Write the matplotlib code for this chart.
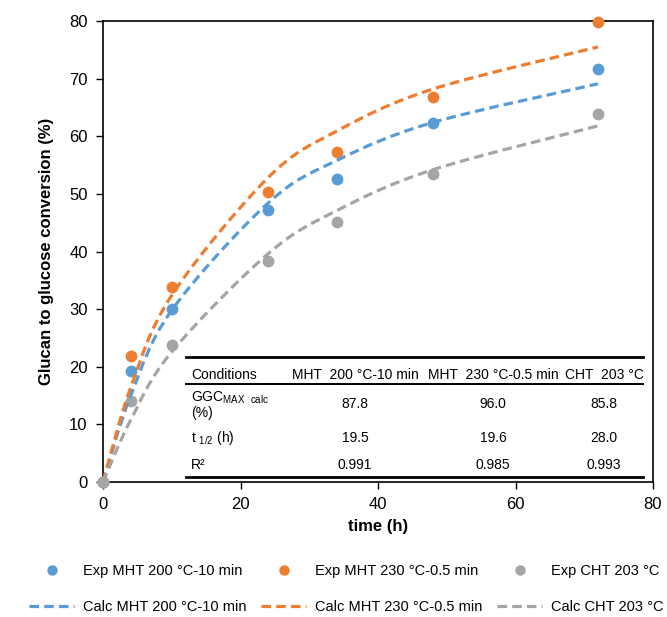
import numpy as np
import matplotlib.pyplot as plt
from matplotlib.path import Path
from matplotlib.patches import PathPatch
from matplotlib.lines import Line2D

plt.rcParams['font.family'] = ['Liberation Sans', 'DejaVu Sans']
plt.rcParams['mathtext.default'] = 'regular'

time_h = [0, 4, 10, 24, 34, 48, 72]
exp_mht200 = [0, 19.2, 30.0, 47.2, 52.5, 62.3, 71.7]
exp_mht230 = [0, 21.8, 33.8, 50.3, 57.3, 66.8, 79.8]
exp_cht203 = [0, 14.0, 23.7, 38.4, 45.1, 53.5, 63.8]
calc_mht200 = [0, 14.9, 29.8, 48.4, 55.8, 62.4, 69.1]
calc_mht230 = [0, 16.3, 32.4, 52.8, 60.9, 68.2, 75.5]
calc_cht203 = [0, 10.7, 22.6, 39.6, 47.1, 54.2, 61.8]

labels_exp = ["Exp MHT 200 °C-10 min", "Exp MHT 230 °C-0.5 min", "Exp CHT 203 °C"]
labels_calc = ["Calc MHT 200 °C-10 min", "Calc MHT 230 °C-0.5 min", "Calc CHT 203 °C"]
colors = ["#5B9BD5", "#ED7D31", "#A5A5A5"]

table_header = ["Conditions", "MHT  200 °C-10 min", "MHT  230 °C-0.5 min", "CHT  203 °C"]
table_rows = ["GGC$_{MAX\\ \\ calc}$\n(%)", "t $_{1/2}$ (h)", "R²"]
ggc_max = ["87.8", "96.0", "85.8"]
t_half = ["19.5", "19.6", "28.0"]
r2 = ["0.991", "0.985", "0.993"]

W, H = 667, 617


def px(x, y):
    return x / W, 1 - y / H


def smooth_path(x, y):
    pts = np.column_stack([x, y]).astype(float)
    n = len(pts)
    verts = [pts[0]]
    codes = [Path.MOVETO]
    for i in range(n - 1):
        p0 = pts[max(i - 1, 0)]
        p1 = pts[i]
        p2 = pts[i + 1]
        p3 = pts[min(i + 2, n - 1)]
        verts += [p1 + (p2 - p0) / 6, p2 - (p3 - p1) / 6, p2]
        codes += [Path.CURVE4] * 3
    return Path(verts, codes)


fig = plt.figure(figsize=(6.67, 6.17), dpi=100)
ax = fig.add_axes([103 / W, 1 - 482 / H, 550 / W, 461 / H])

for ys, c in zip([exp_mht200, exp_mht230, exp_cht203], colors):
    ax.plot(time_h, ys, "o", color=c, ms=8.5, mec="none", clip_on=False, zorder=3)

dash = (0, (3, 1.6))
for ys, c in zip([calc_mht200, calc_mht230, calc_cht203], colors):
    ax.add_patch(PathPatch(smooth_path(time_h, ys), fill=False, edgecolor=c,
                           lw=2.3, linestyle=dash, capstyle="butt", zorder=4))

ax.set_xlim(0, 80)
ax.set_ylim(0, 80)
ax.set_xticks(range(0, 81, 20))
ax.set_yticks(range(0, 81, 10))
ax.tick_params(direction="out", length=5, width=1, labelsize=12, pad=6, colors="black")
for s in ax.spines.values():
    s.set_linewidth(1.2)
ax.set_xlabel("time (h)", fontsize=12, fontweight="bold", labelpad=5)
ax.set_ylabel("Glucan to glucose conversion (%)", fontsize=12, fontweight="bold", labelpad=11)

# table inside the plot
for y, lw in [(357, 2.0), (384, 1.4), (477, 2.0)]:
    fig.add_artist(Line2D([186 / W, 643 / W], [1 - y / H] * 2, color="black", lw=lw))

col_x = [355, 493, 604]
fig.text(*px(191, 375), table_header[0], fontsize=10, va="center", ha="left")
for x, t in zip(col_x, table_header[1:]):
    fig.text(*px(x, 375), t, fontsize=10, va="center", ha="center")

row_y = [404, 438, 465]
fig.text(*px(191, 405), table_rows[0], fontsize=10, va="center", ha="left", linespacing=1.0)
fig.text(*px(191, 438), table_rows[1], fontsize=10, va="center", ha="left")
fig.text(*px(191, 465), table_rows[2], fontsize=10, va="center", ha="left")
for vals, y in zip([ggc_max, t_half, r2], row_y):
    for x, v in zip(col_x, vals):
        fig.text(*px(x, y), v, fontsize=10, va="center", ha="center")

handles = []
labels = []
for c, le, lc in zip(colors, labels_exp, labels_calc):
    handles.append(Line2D([], [], marker="o", ls="none", color=c, ms=7.5, mec="none"))
    labels.append(le)
    handles.append(Line2D([], [], ls=dash, color=c, lw=2.3))
    labels.append(lc)

fig.legend(handles, labels, ncol=3, loc="lower left", bbox_to_anchor=(19 / W, -7 / H),
           frameon=False, fontsize=10.5, handlelength=3.1, handletextpad=0.6,
           columnspacing=1.0, labelspacing=1.5, borderpad=0.2)

fig.savefig("out.png", dpi=100)
